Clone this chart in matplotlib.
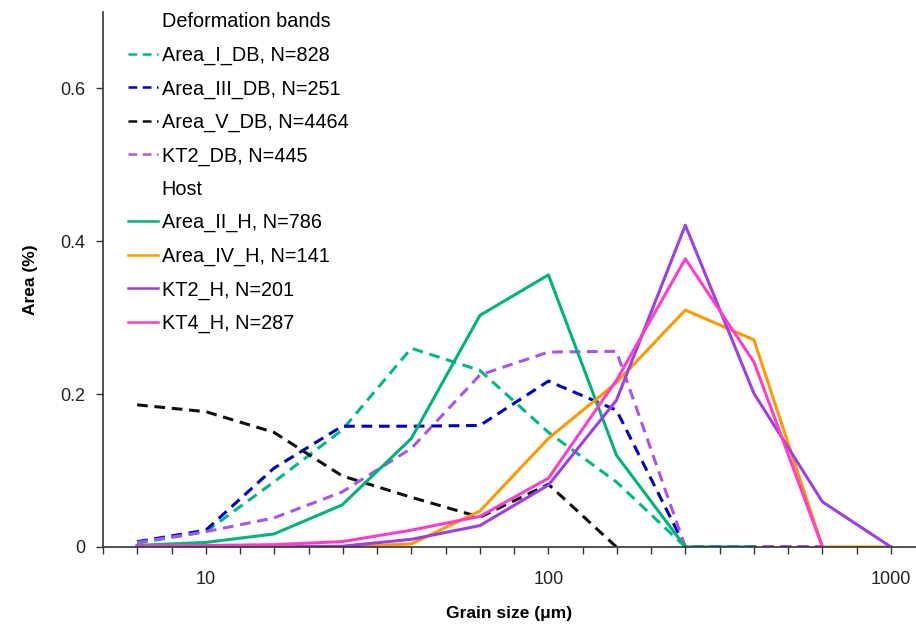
import matplotlib.pyplot as plt
from matplotlib.lines import Line2D
from matplotlib.ticker import FixedLocator, NullFormatter

plt.rcParams['font.family'] = ['Liberation Sans', 'DejaVu Sans']

# --- Data (grain size classes, area fraction) ---

grain_size = [6.3, 10, 15.8, 25, 39.8, 63.1, 100, 158, 251, 398, 631, 1000]

area_i_db = [0.005, 0.02, 0.085, 0.153, 0.26, 0.231, 0.15, 0.085, 0.0, 0.0]
area_iii_db = [0.007, 0.022, 0.103, 0.158, 0.158, 0.159, 0.217, 0.179, 0.0, 0.0, 0.0]
area_v_db = [0.186, 0.177, 0.15, 0.093, 0.065, 0.039, 0.082, 0.0]
kt2_db = [0.006, 0.02, 0.038, 0.072, 0.129, 0.225, 0.255, 0.256, 0.0, 0.0, 0.0]

area_ii_h = [0.002, 0.006, 0.017, 0.055, 0.142, 0.303, 0.356, 0.12, 0.0, 0.0]
area_iv_h = [0.0, 0.0, 0.0, 0.0, 0.004, 0.047, 0.142, 0.215, 0.31, 0.271, 0.0, 0.0]
kt2_h = [0.0, 0.0, 0.0, 0.001, 0.01, 0.028, 0.081, 0.192, 0.421, 0.201, 0.059, 0.0]
kt4_h = [0.001, 0.002, 0.003, 0.007, 0.022, 0.04, 0.09, 0.218, 0.377, 0.242, 0.0]

db_series = [
    ('Area_I_DB, N=828', area_i_db, '#00B887'),
    ('Area_III_DB, N=251', area_iii_db, '#0000C0'),
    ('Area_V_DB, N=4464', area_v_db, '#111111'),
    ('KT2_DB, N=445', kt2_db, '#A855E8'),
]
host_series = [
    ('Area_II_H, N=786', area_ii_h, '#00B37A'),
    ('Area_IV_H, N=141', area_iv_h, '#FF9900'),
    ('KT2_H, N=201', kt2_h, '#9D3FE6'),
    ('KT4_H, N=287', kt4_h, '#FF3DC8'),
]

# --- Plot ---

fig = plt.figure(figsize=(9.16, 6.29), dpi=100)
ax = fig.add_axes([0.1125, 0.1304, 0.8875, 0.8506])

dash = (0, (3.5, 2.2))
handles = [Line2D([], [], color='none')]
labels = ['Deformation bands']
for name, vals, col in db_series:
    ln, = ax.plot(grain_size[:len(vals)], vals, color=col, lw=2.2, ls=dash)
    handles.append(ln)
    labels.append(name)
handles.append(Line2D([], [], color='none'))
labels.append('Host')
for name, vals, col in host_series:
    ln, = ax.plot(grain_size[:len(vals)], vals, color=col, lw=2.2)
    handles.append(ln)
    labels.append(name)

ax.set_xscale('log')
ax.set_xlim(10 ** 0.70, 10 ** 3.073)
ax.set_ylim(0, 0.7)

ax.xaxis.set_major_locator(FixedLocator([10, 100, 1000]))
ax.xaxis.set_minor_locator(FixedLocator([10 ** (k / 10) for k in range(7, 31)]))
ax.xaxis.set_minor_formatter(NullFormatter())
ax.set_xticks([10, 100, 1000], ['10', '100', '1000'])
ax.set_yticks([0, 0.2, 0.4, 0.6], ['0', '0.2', '0.4', '0.6'])

ax.tick_params(axis='both', which='both', direction='out', length=5, width=1,
               color='#333333', labelsize=13, labelcolor='#222222')
ax.tick_params(axis='x', pad=12)
ax.tick_params(axis='y', pad=8)

for side in ['top', 'right']:
    ax.spines[side].set_visible(False)
for side in ['left', 'bottom']:
    ax.spines[side].set_color('#333333')
    ax.spines[side].set_linewidth(1.2)

ax.set_xlabel('Grain size (μm)', fontsize=12.5, fontweight='bold', labelpad=13)
ax.set_ylabel('Area (%)', fontsize=12.5, fontweight='bold', labelpad=16)

leg = ax.legend(handles, labels, loc='upper left', frameon=False, fontsize=14.3,
                handlelength=1.5, handletextpad=0.2, labelspacing=0.72,
                borderaxespad=0.0, bbox_to_anchor=(0.021, 1.014))
for h in leg.get_lines():
    h.set_linewidth(1.8)

plt.savefig('out.png', dpi=100)
